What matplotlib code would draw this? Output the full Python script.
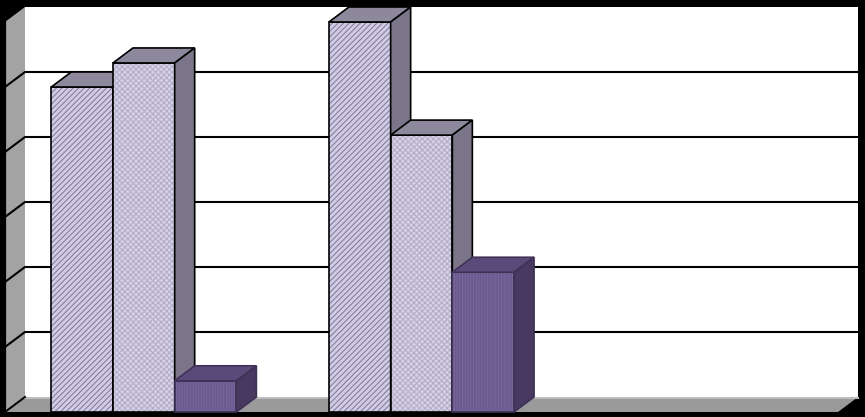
import numpy as np
import matplotlib
matplotlib.use("Agg")
import matplotlib.pyplot as plt
from matplotlib.patches import Polygon, Rectangle

# data (3 categories, the last one is empty)
categories = ["1", "2", "3"]
series_a = [5.0, 6.0, np.nan]
series_b = [5.37, 4.26, np.nan]
series_c = [0.48, 2.15, np.nan]
ymax = 6

# looks
fronts = ["#d2cce2", "#d6d1e4", "#6b5a8d"]
hatch_cols = ["#7c74a0", "#b2abc8", "#77679a"]
hatches = ["//////", "xxxxxx", "||||||"]
tops = ["#8d889c", "#8d889c", "#5a4a7a"]
sides = ["#7a7588", "#7a7588", "#47395f"]
outline = ["black", "black", "#3e3256"]

plt.rcParams["hatch.linewidth"] = 0.7

fig = plt.figure(figsize=(8.65, 4.17), dpi=100, facecolor="black")
ax = fig.add_axes([0, 0, 1, 1])
ax.set_facecolor("black")

ncat = len(categories)
px_per_cat = 833 / ncat
px_per_val = 65
dx = 20 / px_per_cat   # depth offset in data units
dy = 15 / px_per_val
ax.set_xlim(-5 / px_per_cat, 860 / px_per_cat)
ax.set_ylim(-5 / px_per_val, 412 / px_per_val)
ax.axis("off")

# walls and floor
ax.add_patch(Rectangle((dx, dy), ncat, ymax, facecolor="white", edgecolor="none", zorder=1))
ax.add_patch(Polygon([(0, 0), (dx, dy), (dx, ymax + dy), (0, ymax)],
                     facecolor="#a3a3a3", edgecolor="none", zorder=1))
ax.add_patch(Polygon([(0, 0), (ncat, 0), (ncat + dx, dy), (dx, dy)],
                     facecolor="#9a9a9a", edgecolor="none", zorder=1))
ax.plot([dx, ncat + dx], [dy - 0.02, dy - 0.02], color="#bdbdbd", lw=1.5, zorder=1.5)
ax.plot([0, dx], [0, dy], color="black", lw=1.4, zorder=2)
ax.plot([0, 0], [0, ymax], color="black", lw=1.6, zorder=2)
for g in range(1, ymax):
    ax.plot([0, dx, ncat + dx], [g, g + dy, g + dy], color="black", lw=1.5, zorder=2)

# bars
w = 1 / 4.5
data = [series_a, series_b, series_c]
for j in range(ncat):
    for i, ser in enumerate(data):
        v = ser[j]
        if np.isnan(v):
            continue
        x0 = j + 0.75 * w + i * w
        z = 3 + j * 3 + i
        ax.add_patch(Rectangle((x0, 0), w, v, facecolor=fronts[i], edgecolor=hatch_cols[i],
                               hatch=hatches[i], lw=0, zorder=z))
        ax.add_patch(Rectangle((x0, 0), w, v, fill=False, edgecolor=outline[i], lw=1.2, zorder=z))
        ax.add_patch(Polygon([(x0, v), (x0 + w, v), (x0 + w + dx, v + dy), (x0 + dx, v + dy)],
                             facecolor=tops[i], edgecolor=outline[i], lw=1.2, zorder=z))
        ax.add_patch(Polygon([(x0 + w, 0), (x0 + w + dx, dy), (x0 + w + dx, v + dy), (x0 + w, v)],
                             facecolor=sides[i], edgecolor=outline[i], lw=1.2, zorder=z))

plt.savefig("out.png", dpi=100, facecolor="black")
